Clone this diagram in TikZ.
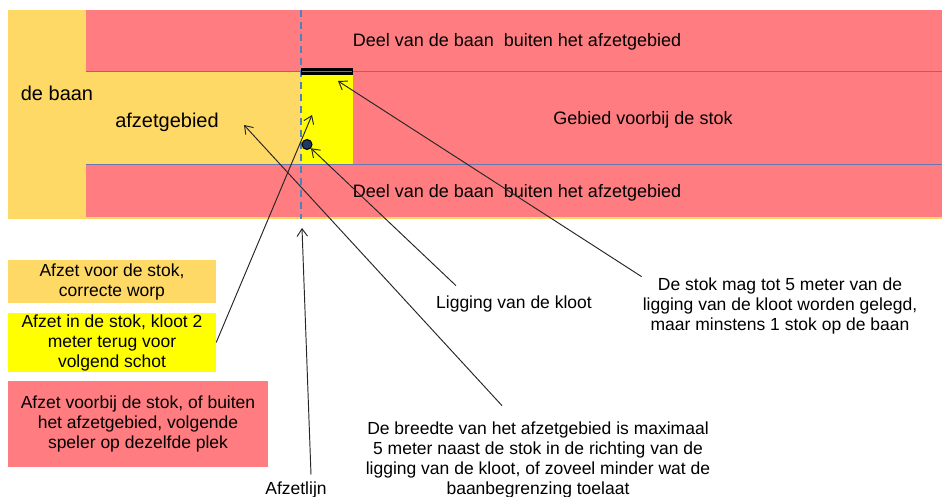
\documentclass[tikz,border=0pt]{standalone}
\usepackage{fontspec}
\setmainfont{Liberation Sans}
\usetikzlibrary{arrows.meta}
\definecolor{baan}{RGB}{255,217,102}
\definecolor{buiten}{RGB}{255,124,128}
\definecolor{stokvak}{RGB}{255,255,0}
\definecolor{rand}{RGB}{100,120,180}
\definecolor{afzet}{RGB}{79,129,189}
\definecolor{klootkleur}{RGB}{31,56,100}

\begin{document}
\begin{tikzpicture}[x=1pt,y=-1pt,
  tekst/.style={font=\fontsize{17.5}{20}\selectfont,align=center,inner sep=1pt},
  band/.style={font=\fontsize{18}{20}\selectfont,inner sep=1pt},
  groot/.style={font=\fontsize{20}{24}\selectfont,inner sep=1pt},
  vak/.style={tekst,inner sep=0pt},
  pijl/.style={draw=black!85,line width=0.95pt,-{Straight Barb[length=7.5pt,width=10.5pt]}}]
  \useasboundingbox (0,0) rectangle (942,497);
  \fill[baan] (8,10) rectangle (942,219);
  \fill[buiten] (86,10) rectangle (942,72);
  \fill[buiten] (86,165) rectangle (942,217);
  \fill[buiten] (353,72) rectangle (942,165);
  \fill[stokvak] (301,72) rectangle (353,165);
  \draw[rand,line width=1pt] (86,72) -- (942,72) (86,165) -- (942,165);
  \draw[afzet,line width=1.6pt,dash pattern=on 7pt off 5pt] (301,10) -- (301,219);
  \fill[black] (301,68) rectangle (353,75);
  \draw[afzet,line width=1.2pt] (302,71.5) -- (352,71.5);
  \node [circle,draw=black,fill=klootkleur,line width=1pt,minimum size=10pt,inner sep=0pt] (kloot) at (307,144.5) {};

  \node [band] (deelboven) at (517,42) {Deel van de baan\ \ buiten het afzetgebied};
  \node [band] (deelonder) at (517,193) {Deel van de baan\ \ buiten het afzetgebied};
  \node [band] (voorbij) at (643,120) {Gebied voorbij de stok};
  \node [groot] (debaan) at (57,93) {de baan};
  \node [groot] (afzetgebied) at (167,122) {afzetgebied};

  \node [vak,fill=baan,minimum width=208,minimum height=43] (afzetvoor) at (112,281.5) {Afzet voor de stok,\\correcte worp};
  \node [vak,fill=stokvak,minimum width=208,minimum height=59] (afzetin) at (112,342.5) {Afzet in de stok, kloot 2\\meter terug voor\\volgend schot};
  \node [vak,fill=buiten,minimum width=260,minimum height=86] (afzetna) at (138,424) {Afzet voorbij de stok, of buiten\\het afzetgebied, volgende\\speler op dezelfde plek};

  \node [tekst] (ligging) at (514,304) {Ligging van de kloot};
  \node [tekst] (stok) at (780,306) {De stok mag tot 5 meter van de\\ligging van de kloot worden gelegd,\\maar minstens 1 stok op de baan};
  \node [tekst] (breedte) at (538,460) {De breedte van het afzetgebied is maximaal\\5 meter naast de stok in de richting van de\\ligging van de kloot, of zoveel minder wat de\\baanbegrenzing toelaat};
  \node [tekst] (afzetlijn) at (296,490) {Afzetlijn};

  \coordinate (stokpunt) at (338,81);
  \coordinate (vakpunt) at (312,115);
  \coordinate (veldpunt) at (244,125);
  \coordinate (lijnpunt) at (302,228);

  \draw[pijl] (afzetin.east) -- (vakpunt);
  \draw[pijl] ([xshift=-36pt,yshift=15pt]breedte.north) -- (veldpunt);
  \draw[pijl] ([xshift=21pt,yshift=9pt]ligging.north west) -- (kloot);
  \draw[pijl] (stok.north west) -- (stokpunt);
  \draw[pijl] ([xshift=15pt,yshift=6pt]afzetlijn.north) -- (lijnpunt);
\end{tikzpicture}
\end{document}
